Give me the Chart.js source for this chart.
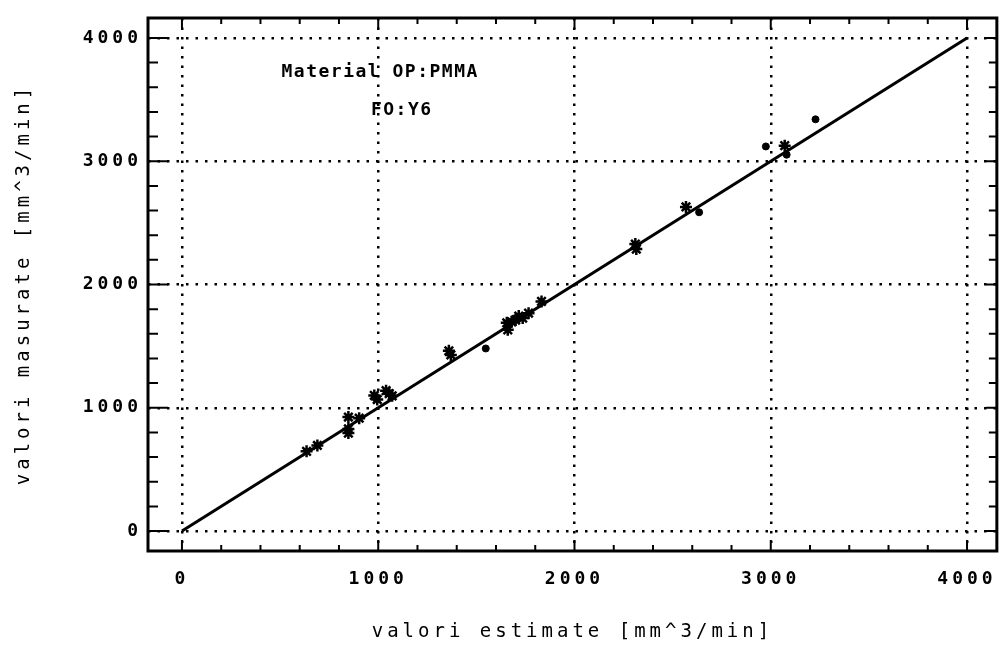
<!DOCTYPE html>
<html>
<head>
<meta charset="utf-8">
<script src="https://cdn.jsdelivr.net/npm/chart.js@4.4.1/dist/chart.umd.min.js"></script>
<style>
  html, body { margin: 0; padding: 0; background: #fff; }
  #wrap { width: 1007px; height: 648px; }
</style>
</head>
<body>
<div id="wrap"><canvas id="chart"></canvas></div>
<script>
// measured vs estimated values, asterisk markers
const starEst  = [635, 690, 848, 848, 848, 903, 980, 995, 1040, 1056, 1071, 1360, 1370, 1655, 1660, 1680, 1700, 1716, 1736, 1766, 1832, 2310, 2315, 2568, 3071];
const starMeas = [647, 694, 925, 828, 795, 915, 1100, 1067, 1139, 1114, 1097, 1462, 1429, 1689, 1632, 1697, 1712, 1744, 1728, 1767, 1863, 2328, 2287, 2629, 3126];
// dot markers
const dotEst  = [1548, 2635, 2975, 3081, 3228];
const dotMeas = [1481, 2586, 3120, 3053, 3340];
// reference line
const lineEst  = [0, 4000];
const lineMeas = [0, 4000];

const xTicks = [0, 1000, 2000, 3000, 4000];
const yTicks = [0, 1000, 2000, 3000, 4000];
const minorStep = 200;

const xTitle = 'valori estimate [mm^3/min]';
const yTitle = 'valori masurate [mm^3/min]';
const note1 = 'Material OP:PMMA';
const note2 = 'FO:Y6';

const MONO = '"DejaVu Sans Mono", monospace';

function pts(xs, ys) { return xs.map((x, i) => ({ x: x, y: ys[i] })); }

// frame, inward ticks, notes
const framePlugin = {
  id: 'frame',
  beforeDraw(chart) {
    chart.ctx.letterSpacing = '4px';
  },
  afterDraw(chart) {
    const ctx = chart.ctx;
    const a = chart.chartArea;
    const xs = chart.scales.x, ys = chart.scales.y;
    ctx.save();
    ctx.strokeStyle = '#000';
    ctx.lineWidth = 3;
    ctx.strokeRect(a.left, a.top, a.right - a.left, a.bottom - a.top);
    ctx.lineWidth = 2;
    ctx.beginPath();
    for (let v = 0; v <= 4000; v += minorStep) {
      const major = v % 1000 === 0;
      const px = xs.getPixelForValue(v);
      const tb = major ? 11 : 6;
      ctx.moveTo(px, a.bottom); ctx.lineTo(px, a.bottom - tb);
      ctx.moveTo(px, a.top); ctx.lineTo(px, a.top + tb);
      const py = ys.getPixelForValue(v);
      ctx.moveTo(a.left, py); ctx.lineTo(a.left + (major ? 20 : 10), py);
      ctx.moveTo(a.right, py); ctx.lineTo(a.right - (major ? 11 : 8), py);
    }
    ctx.stroke();

    ctx.fillStyle = '#000';
    ctx.font = 'bold 18px ' + MONO;
    ctx.letterSpacing = '1.5px';
    ctx.textAlign = 'center';
    ctx.textBaseline = 'middle';
    ctx.fillText(note1, xs.getPixelForValue(1010), ys.getPixelForValue(3720));
    ctx.fillText(note2, xs.getPixelForValue(1120), ys.getPixelForValue(3410));
    ctx.restore();
  }
};

new Chart(document.getElementById('chart'), {
  type: 'scatter',
  data: {
    datasets: [
      {
        label: 'line', data: pts(lineEst, lineMeas), showLine: true,
        borderColor: '#000', borderWidth: 3, pointRadius: 0, fill: false
      },
      {
        label: 'asterisk', data: pts(starEst, starMeas), pointStyle: 'star',
        pointRadius: 6, borderColor: '#000', backgroundColor: '#000', pointBorderWidth: 2.5
      },
      {
        label: 'dot', data: pts(dotEst, dotMeas), pointStyle: 'circle',
        pointRadius: 3.5, borderColor: '#000', backgroundColor: '#000', pointBorderWidth: 1
      }
    ]
  },
  options: {
    responsive: true, maintainAspectRatio: false, animation: false,
    layout: { padding: { left: 6, right: 7, top: 18, bottom: 0 } },
    plugins: { legend: { display: false }, tooltip: { enabled: false } },
    scales: {
      x: {
        type: 'linear', min: -173, max: 4152,
        afterBuildTicks: (s) => { s.ticks = xTicks.map(v => ({ value: v })); },
        afterFit: (s) => { s.height = 97; },
        ticks: { color: '#000', padding: 18, maxRotation: 0, callback: (v) => String(v),
                 font: { family: MONO, size: 18, weight: 'bold' } },
        grid: { color: '#000', lineWidth: 2.5, drawTicks: false },
        border: { display: false, dash: [2.5, 7] },
        title: { display: true, text: xTitle, color: '#000', padding: { top: 0, bottom: 5 },
                 font: { family: MONO, size: 19 } }
      },
      y: {
        type: 'linear', min: -162, max: 4162,
        afterBuildTicks: (s) => { s.ticks = yTicks.map(v => ({ value: v })); },
        afterFit: (s) => { s.width = 142; },
        ticks: { color: '#000', padding: 6, callback: (v) => String(v),
                 font: { family: MONO, size: 18, weight: 'bold' } },
        grid: { color: '#000', lineWidth: 2.5, drawTicks: false },
        border: { display: false, dash: [2.5, 7] },
        title: { display: true, text: yTitle, color: '#000', padding: { top: 7, bottom: 0 },
                 font: { family: MONO, size: 19 } }
      }
    }
  },
  plugins: [framePlugin]
});
</script>
</body>
</html>
